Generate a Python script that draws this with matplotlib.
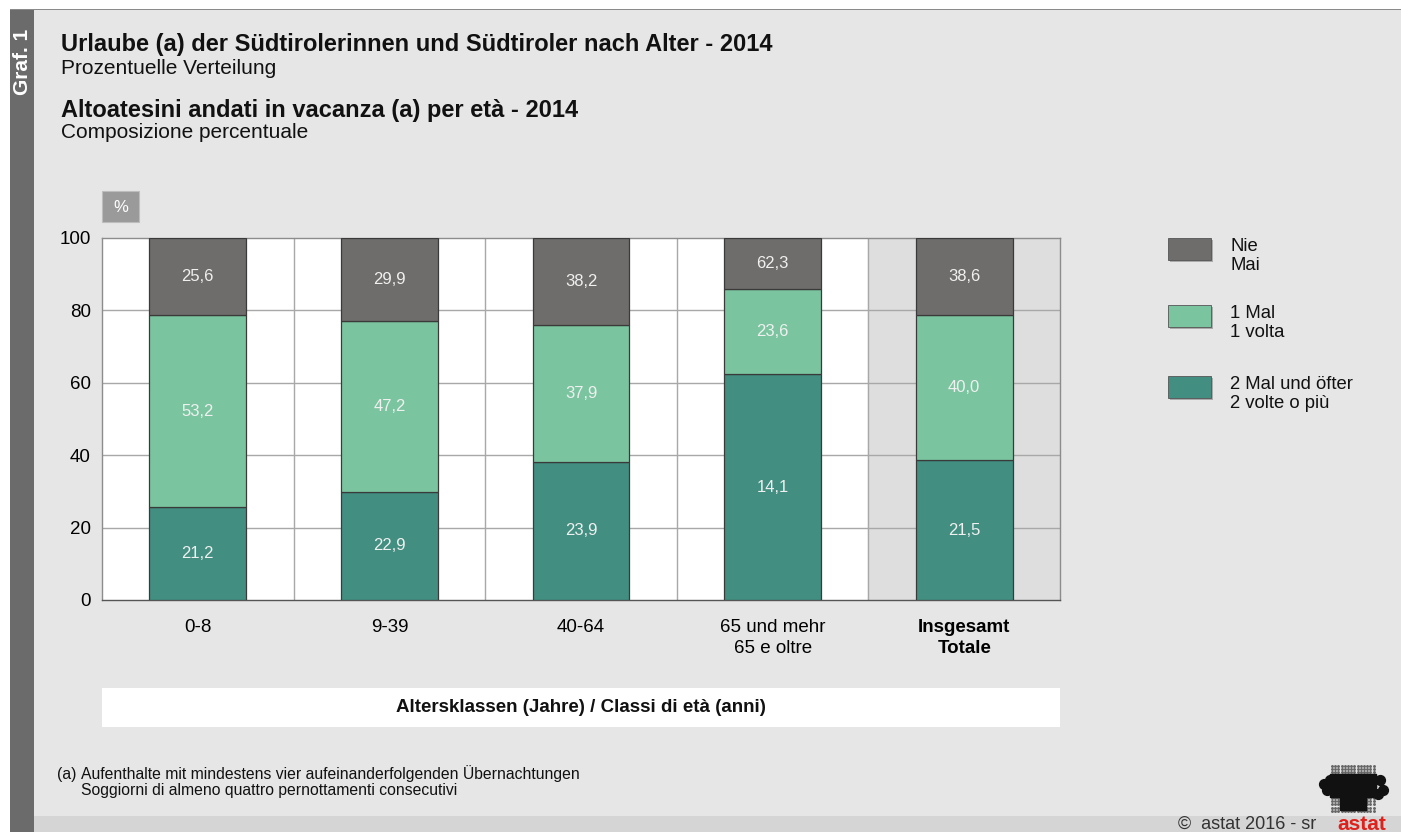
import numpy as np
import matplotlib
matplotlib.use("Agg")
import matplotlib.pyplot as plt
from matplotlib.patches import Rectangle

plt.rcParams['font.family'] = ['Liberation Sans', 'DejaVu Sans']

# data
categories = ["0-8", "9-39", "40-64", "65 und mehr\n65 e oltre", "Insgesamt\nTotale"]
nie = [25.6, 29.9, 38.2, 62.3, 38.6]
ein_mal = [53.2, 47.2, 37.9, 23.6, 40.0]
zwei_mal = [21.2, 22.9, 23.9, 14.1, 21.5]
yticks = [0, 20, 40, 60, 80, 100]

legend_labels = ["Nie\nMai", "1 Mal\n1 volta", "2 Mal und öfter\n2 volte o più"]
c_nie = "#6f6d6b"
c_ein = "#7ac59f"
c_zwei = "#428f81"

W, H = 1401, 832
fig = plt.figure(figsize=(W / 100, H / 100), dpi=100)
fig.patch.set_facecolor("white")


def fx(x):
    return x / W


def fy(y):
    return 1 - y / H


# background panels
fig.add_artist(Rectangle((fx(10), 0), 1, fy(10), transform=fig.transFigure,
                         facecolor="#e6e6e6", edgecolor="none", zorder=-10))
fig.add_artist(Rectangle((fx(10), fy(10)), 1, 0.0015, transform=fig.transFigure,
                         facecolor="#8a8a8a", edgecolor="none", zorder=-9))
fig.add_artist(Rectangle((fx(10), 0), fx(24), fy(10), transform=fig.transFigure,
                         facecolor="#6b6b6b", edgecolor="none", zorder=-8))
fig.add_artist(Rectangle((fx(34), 0), 1, 16 / H, transform=fig.transFigure,
                         facecolor="#d5d5d5", edgecolor="none", zorder=-8))
fig.text(fx(22), fy(62), "Graf. 1", rotation=90, color="white", fontsize=15,
         fontweight="bold", ha="center", va="center")

# titles
fig.text(fx(61), fy(45), "Urlaube (a) der Südtirolerinnen und Südtiroler nach Alter - 2014",
         fontsize=17, fontweight="bold", ha="left", va="center", color="#111111")
fig.text(fx(61), fy(68), "Prozentuelle Verteilung", fontsize=15, ha="left", va="center",
         color="#111111")
fig.text(fx(61), fy(110), "Altoatesini andati in vacanza (a) per età - 2014",
         fontsize=17, fontweight="bold", ha="left", va="center", color="#111111")
fig.text(fx(61), fy(133), "Composizione percentuale", fontsize=15, ha="left", va="center",
         color="#111111")

# main axes
ax = fig.add_axes([fx(102), fy(600), fx(958), 362 / H])
ax.set_facecolor("white")
x = np.arange(len(categories))
ax.set_xlim(-0.5, len(categories) - 0.5)
ax.set_ylim(0, 100)

# shaded total column
ax.axvspan(len(categories) - 1.5, len(categories) - 0.5, color="#dedede", zorder=0)

ax.set_yticks(yticks)
ax.set_yticklabels([str(t) for t in yticks], fontsize=13.5)
ax.set_xticks(x)
ax.set_xticklabels(categories, fontsize=13.5, linespacing=1.25)
ax.get_xticklabels()[-1].set_fontweight("bold")
ax.tick_params(length=0)
ax.tick_params(axis="x", pad=14)
ax.tick_params(axis="y", pad=8)

for yv in yticks[1:-1]:
    ax.axhline(yv, color="#a8a8a8", lw=1, zorder=1)
for xv in np.arange(0.5, len(categories) - 0.5, 1):
    ax.axvline(xv, color="#a8a8a8", lw=1, zorder=1)

for s in ax.spines.values():
    s.set_color("#8c8c8c")
    s.set_linewidth(1)
ax.spines["bottom"].set_color("#555555")

bw = 0.505
edge = dict(edgecolor="#3a3a3a", linewidth=0.9, zorder=3)
b1 = ax.bar(x, nie, bw, color=c_zwei, **edge)
bottom2 = np.array(nie)
b2 = ax.bar(x, ein_mal, bw, bottom=bottom2, color=c_ein, **edge)
bottom3 = bottom2 + np.array(ein_mal)
b3 = ax.bar(x, zwei_mal, bw, bottom=bottom3, color=c_nie, **edge)

lab_kw = dict(ha="center", va="center", fontsize=12, color="#f0f0f0", zorder=4)
for i in range(len(categories)):
    ax.text(x[i], nie[i] / 2, f"{zwei_mal[i]:.1f}".replace(".", ","), **lab_kw)
    ax.text(x[i], bottom2[i] + ein_mal[i] / 2, f"{ein_mal[i]:.1f}".replace(".", ","), **lab_kw)
    ax.text(x[i], bottom3[i] + zwei_mal[i] / 2, f"{nie[i]:.1f}".replace(".", ","), **lab_kw)

# % box
fig.add_artist(Rectangle((fx(102), fy(222)), fx(37), 31 / H, transform=fig.transFigure,
                         facecolor="#9a9a9a", edgecolor="#bdbdbd", lw=0.8))
fig.text(fx(120.5), fy(207), "%", color="white", fontsize=12, ha="center", va="center")

# axis title box
fig.add_artist(Rectangle((fx(102), fy(727)), fx(958), 39 / H, transform=fig.transFigure,
                         facecolor="white", edgecolor="none"))
fig.text(fx(581), fy(708), "Altersklassen (Jahre) / Classi di età (anni)", fontsize=13.5,
         fontweight="bold", ha="center", va="center", color="#111111")

# legend
leg_colors = [c_nie, c_ein, c_zwei]
leg_y = [238, 305, 376]
for lbl, col, y0 in zip(legend_labels, leg_colors, leg_y):
    fig.add_artist(Rectangle((fx(1170), fy(y0 + 24)), fx(43), 22 / H, transform=fig.transFigure,
                             facecolor="#aaaaaa", edgecolor="none"))
    fig.add_artist(Rectangle((fx(1168), fy(y0 + 22)), fx(43), 22 / H, transform=fig.transFigure,
                             facecolor=col, edgecolor="#555555", lw=0.6))
    fig.text(fx(1230), fy(y0 + 18), lbl, fontsize=13.3, ha="left", va="center",
             linespacing=1.2, color="#111111")

# footnote
fig.text(fx(57), fy(774), "(a)", fontsize=11.3, ha="left", va="center", color="#111111")
fig.text(fx(81), fy(774), "Aufenthalte mit mindestens vier aufeinanderfolgenden Übernachtungen",
         fontsize=11.3, ha="left", va="center", color="#111111")
fig.text(fx(81), fy(791), "Soggiorni di almeno quattro pernottamenti consecutivi",
         fontsize=11.3, ha="left", va="center", color="#111111")

# footer
fig.text(fx(1316), fy(824), "©  astat 2016 - sr", fontsize=13, ha="right", va="center",
         color="#333333")
fig.text(fx(1386), fy(824), "astat", fontsize=15, fontweight="bold", ha="right", va="center",
         color="#e0201b")

# logo (dot matrix)
lax = fig.add_axes([fx(1318), fy(814), fx(72), 50 / H])
lax.set_xlim(0, 72)
lax.set_ylim(50, 0)
lax.axis("off")
gx, gy = np.meshgrid(np.arange(14, 58, 3.2), np.arange(2, 48, 3.2))
inside = ((gy > 10) & (gy < 32) & (gx > 12)) | ((gx > 22) & (gx < 46) & (gy >= 32) & (gy < 44))
lax.scatter(gx[~inside], gy[~inside], s=1.2, color="#666666")
lax.scatter(gx[inside], gy[inside], s=5, color="#111111", marker="s")
lax.scatter([6, 9, 12, 62, 65, 60], [20, 26, 16, 16, 26, 30], s=50, color="#111111")

fig.savefig("out.png", dpi=100, facecolor=fig.get_facecolor())
